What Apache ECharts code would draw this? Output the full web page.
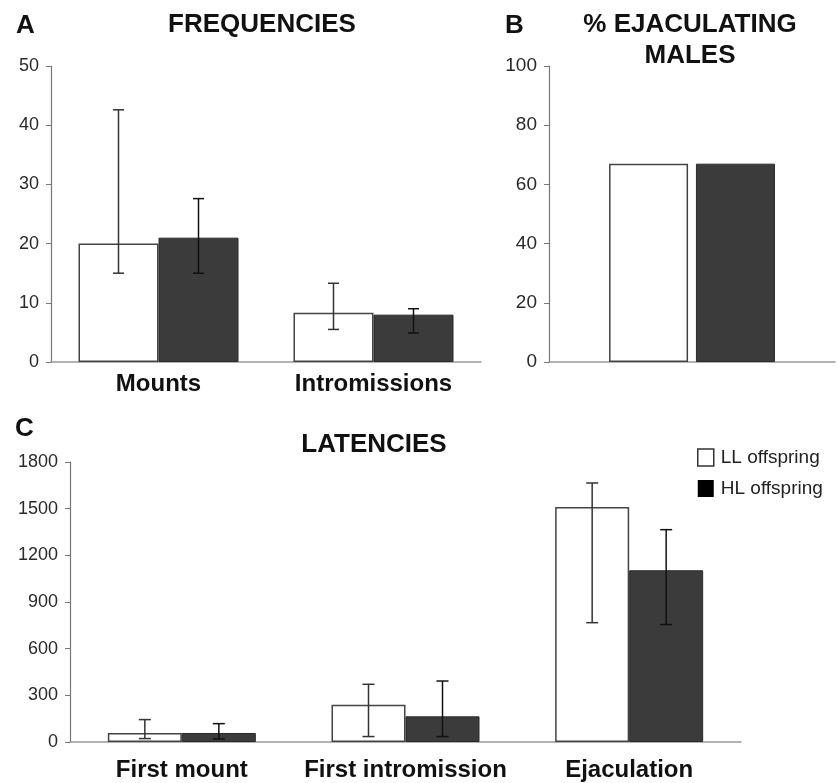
<!DOCTYPE html>
<html>
<head>
<meta charset="utf-8">
<script src="https://cdn.jsdelivr.net/npm/echarts@6/dist/echarts.min.js"></script>
<style>
    html, body { margin: 0; padding: 0; background: #fff; }
    #chart { width: 837px; height: 783px; }
</style>
</head>
<body>
<div id="chart"></div>
<script>
    // panel A - frequencies
    var freqCategories = ['Mounts', 'Intromissions']
    var freqLL = [20, 8.3]
    var freqHL = [21, 8]
    var freqLLErr = [[15, 42.6], [5.5, 13.3]]
    var freqHLErr = [[15, 27.6], [4.9, 9]]

    // panel B - % ejaculating males
    var ejacCategories = ['']
    var ejacLL = [67]
    var ejacHL = [67]

    // panel C - latencies
    var latCategories = ['First mount', 'First intromission', 'Ejaculation']
    var latLL = [58, 240, 1511]
    var latHL = [58, 165, 1104]
    var latLLErr = [[22, 144], [35, 371], [767, 1665]]
    var latHLErr = [[20, 118], [35, 392], [755, 1365]]

    var font = 'Liberation Sans, Arial, sans-serif'
    var whiteBar = { color: '#fff', borderColor: '#444', borderWidth: 1.5 }
    var darkBar = { color: '#3b3b3b', borderColor: '#2a2a2a', borderWidth: 1 }

    function errData (err) {
        return err.map(function (e, i) { return [i, e[0], e[1]] })
    }

    // error bar drawn on top of a bar, shifted by half a bar width
    function errSeries (err, axis, offset, cap, color) {
        return {
            type: 'custom',
            xAxisIndex: axis,
            yAxisIndex: axis,
            z: 5,
            silent: true,
            encode: { x: 0, y: [1, 2] },
            data: errData(err),
            renderItem: function (params, api) {
                var lo = api.coord([api.value(0), api.value(1)])
                var hi = api.coord([api.value(0), api.value(2)])
                var x = lo[0] + offset
                var style = { stroke: color, lineWidth: 1.5 }
                return {
                    type: 'group',
                    children: [
                        { type: 'line', shape: { x1: x, y1: lo[1], x2: x, y2: hi[1] }, style: style },
                        { type: 'line', shape: { x1: x - cap / 2, y1: hi[1], x2: x + cap / 2, y2: hi[1] }, style: style },
                        { type: 'line', shape: { x1: x - cap / 2, y1: lo[1], x2: x + cap / 2, y2: lo[1] }, style: style }
                    ]
                }
            }
        }
    }

    function yAxis (grid, max, interval, size) {
        return {
            type: 'value',
            gridIndex: grid,
            min: 0,
            max: max,
            interval: interval,
            splitLine: { show: false },
            axisLine: { show: true, lineStyle: { color: '#777', width: 1.2 } },
            axisTick: { show: true, length: 5, lineStyle: { color: '#777' } },
            axisLabel: {
                color: '#2a2a2a', fontSize: size, fontFamily: font, margin: 12,
                formatter: function (v) { return String(v) }
            }
        }
    }

    function xAxis (grid, data, size, margin) {
        return {
            type: 'category',
            gridIndex: grid,
            data: data,
            axisLine: { lineStyle: { color: '#999', width: 1.5 } },
            axisTick: { show: false },
            axisLabel: { color: '#111', fontSize: size, fontWeight: 'bold', fontFamily: font, margin: margin, interval: 0 }
        }
    }

    var titleStyle = { color: '#111', fontSize: 26, fontWeight: 'bold', fontFamily: font }

    var option = {
        animation: false,
        textStyle: { fontFamily: font },
        title: [
            { text: 'A', left: 16, top: 13, textStyle: titleStyle, padding: 0 },
            { text: 'FREQUENCIES', left: 262, top: 12, textAlign: 'center', textStyle: titleStyle, padding: 0 },
            { text: 'B', left: 505, top: 13, textStyle: titleStyle, padding: 0 },
            { text: '% EJACULATING\nMALES', left: 690, top: 9, textAlign: 'center', textStyle: Object.assign({ lineHeight: 31 }, titleStyle), padding: 0 },
            { text: 'C', left: 15, top: 416, textStyle: titleStyle, padding: 0 },
            { text: 'LATENCIES', left: 374, top: 432, textAlign: 'center', textStyle: titleStyle, padding: 0 }
        ],
        legend: {
            orient: 'vertical',
            left: 697,
            top: 448,
            icon: 'rect',
            itemWidth: 16,
            itemHeight: 17,
            itemGap: 12,
            padding: 0,
            textStyle: { fontSize: 19, color: '#222', fontFamily: font, padding: [0, 0, 0, 2] },
            data: [
                { name: 'LL offspring', itemStyle: { color: '#fff', borderColor: '#333', borderWidth: 1.5 } },
                { name: 'HL offspring', itemStyle: { color: '#000', borderWidth: 0 } }
            ]
        },
        grid: [
            { left: 51, right: 356, top: 66, bottom: 421 },
            { left: 549, right: 2, top: 66, bottom: 421 },
            { left: 70, right: 96, top: 462, bottom: 41 }
        ],
        xAxis: [
            xAxis(0, freqCategories, 24, 10),
            xAxis(1, ejacCategories, 24, 10),
            xAxis(2, latCategories, 24, 16)
        ],
        yAxis: [
            yAxis(0, 50, 10, 18),
            yAxis(1, 100, 20, 19),
            yAxis(2, 1800, 300, 18)
        ],
        series: [
            { name: 'LL offspring', type: 'bar', xAxisIndex: 0, yAxisIndex: 0, data: freqLL, barWidth: 80, barGap: '0%', itemStyle: whiteBar },
            { name: 'HL offspring', type: 'bar', xAxisIndex: 0, yAxisIndex: 0, data: freqHL, barWidth: 80, barGap: '0%', itemStyle: darkBar },
            errSeries(freqLLErr, 0, -40, 11, '#333'),
            errSeries(freqHLErr, 0, 40, 11, '#111'),

            { name: 'LL offspring', type: 'bar', xAxisIndex: 1, yAxisIndex: 1, data: ejacLL, barWidth: 79, barGap: '10%', itemStyle: whiteBar },
            { name: 'HL offspring', type: 'bar', xAxisIndex: 1, yAxisIndex: 1, data: ejacHL, barWidth: 79, barGap: '10%', itemStyle: darkBar },

            { name: 'LL offspring', type: 'bar', xAxisIndex: 2, yAxisIndex: 2, data: latLL, barWidth: 74, barGap: '0%', itemStyle: whiteBar },
            { name: 'HL offspring', type: 'bar', xAxisIndex: 2, yAxisIndex: 2, data: latHL, barWidth: 74, barGap: '0%', itemStyle: darkBar },
            errSeries(latLLErr, 2, -37, 12, '#333'),
            errSeries(latHLErr, 2, 37, 12, '#111')
        ]
    }

    var myChart = echarts.init(document.getElementById('chart'))
    myChart.setOption(option)
</script>
</body>
</html>
